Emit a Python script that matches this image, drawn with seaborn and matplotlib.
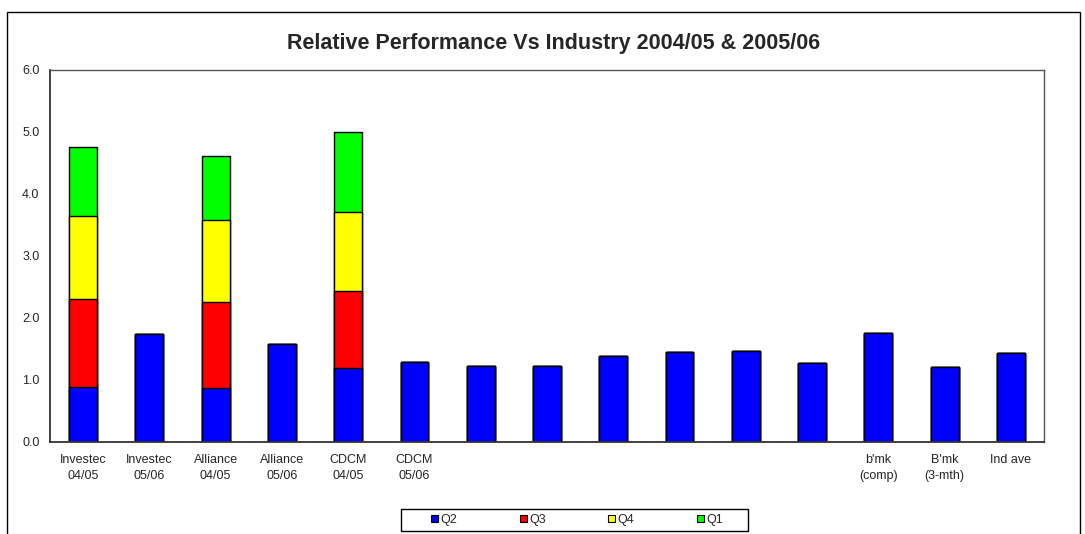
import matplotlib
matplotlib.use("Agg")
import matplotlib.pyplot as plt
from matplotlib.patches import Rectangle, Patch
import seaborn as sns
import numpy as np
import pandas as pd

sns.set_style("white")
plt.rcParams['font.family'] = ['Liberation Sans', 'DejaVu Sans']

labels = ["Investec\n04/05", "Investec\n05/06", "Alliance\n04/05", "Alliance\n05/06",
          "CDCM\n04/05", "CDCM\n05/06", "", "", "", "", "", "",
          "b'mk\n(comp)", "B'mk\n(3-mth)", "Ind ave"]
q2 = [0.88, 1.74, 0.86, 1.58, 1.19, 1.28, 1.23, 1.23, 1.38, 1.45, 1.47, 1.27, 1.76, 1.21, 1.43]
q3 = [1.43, 0, 1.40, 0, 1.25, 0, 0, 0, 0, 0, 0, 0, 0, 0, 0]
q4 = [1.34, 0, 1.32, 0, 1.265, 0, 0, 0, 0, 0, 0, 0, 0, 0, 0]
q1 = [1.10, 0, 1.03, 0, 1.29, 0, 0, 0, 0, 0, 0, 0, 0, 0, 0]
series = ["Q2", "Q3", "Q4", "Q1"]
colors = {"Q2": "#0000FF", "Q3": "#FF0000", "Q4": "#FFFF00", "Q1": "#00FF00"}

pos = list(range(len(labels)))
df = pd.DataFrame({"pos": pos, "Q2": q2, "Q3": q3, "Q4": q4, "Q1": q1})
cum = df[series].cumsum(axis=1)

W, H = 1085, 534
fig = plt.figure(figsize=(W / 100, H / 100), dpi=100)
ax = fig.add_axes([50 / W, 1 - 441.7 / H, (1044 - 50) / W, (441.7 - 70) / H])

for s in reversed(series):
    sns.barplot(x=df["pos"], y=cum[s], color=colors[s], width=0.42,
                edgecolor="black", linewidth=1.0, saturation=1, ax=ax, zorder=2)

ax.set_xlim(-0.5, len(labels) - 0.5)
ax.set_ylim(0, 6)
yt = np.arange(0, 6.01, 1.0)
ax.set_yticks(yt)
ax.set_yticklabels([f"{v:.1f}" for v in yt], fontsize=9)
ax.set_xticks(pos)
ax.set_xticklabels(labels, fontsize=9, linespacing=1.45)
ax.set_xticks(np.arange(-0.5, len(labels), 1.0), minor=True)
ax.tick_params(axis='x', which='major', length=0, pad=9)
ax.tick_params(axis='x', which='minor', length=3.6, width=1, color="#333333", direction='out')
ax.tick_params(axis='y', which='major', length=3.6, width=1, color="#333333", direction='out', pad=4)
ax.set_xlabel("")
ax.set_ylabel("")
for side in ["left", "bottom"]:
    ax.spines[side].set_color("#333333")
    ax.spines[side].set_linewidth(1.3)
for side in ["top", "right"]:
    ax.spines[side].set_color("#555555")
    ax.spines[side].set_linewidth(1.0)
ax.grid(False)

fig.text(554 / W, 1 - 43 / H, "Relative Performance Vs Industry 2004/05 & 2005/06",
         ha="center", va="center", fontsize=15.5, fontweight="bold")

handles = [Patch(facecolor=colors[s], edgecolor="black", linewidth=0.8, label=s) for s in series]
leg = fig.legend(handles=handles, loc="center", bbox_to_anchor=(577 / W, 1 - 520 / H),
                 ncol=4, fontsize=9, frameon=False,
                 handlelength=0.55, handleheight=0.55, handletextpad=0.2, columnspacing=5.0,
                 borderpad=0)

fig.patches.append(Rectangle((401 / W, 1 - 531 / H), (748 - 401) / W, 22 / H,
                             transform=fig.transFigure, fill=False, edgecolor="black",
                             linewidth=1.0))
fig.patches.append(Rectangle((7 / W, -0.05), (1080 - 7) / W, 1.05 - 12 / H,
                             transform=fig.transFigure, fill=False, edgecolor="black",
                             linewidth=1.0))

fig.savefig("out.png", dpi=100)
